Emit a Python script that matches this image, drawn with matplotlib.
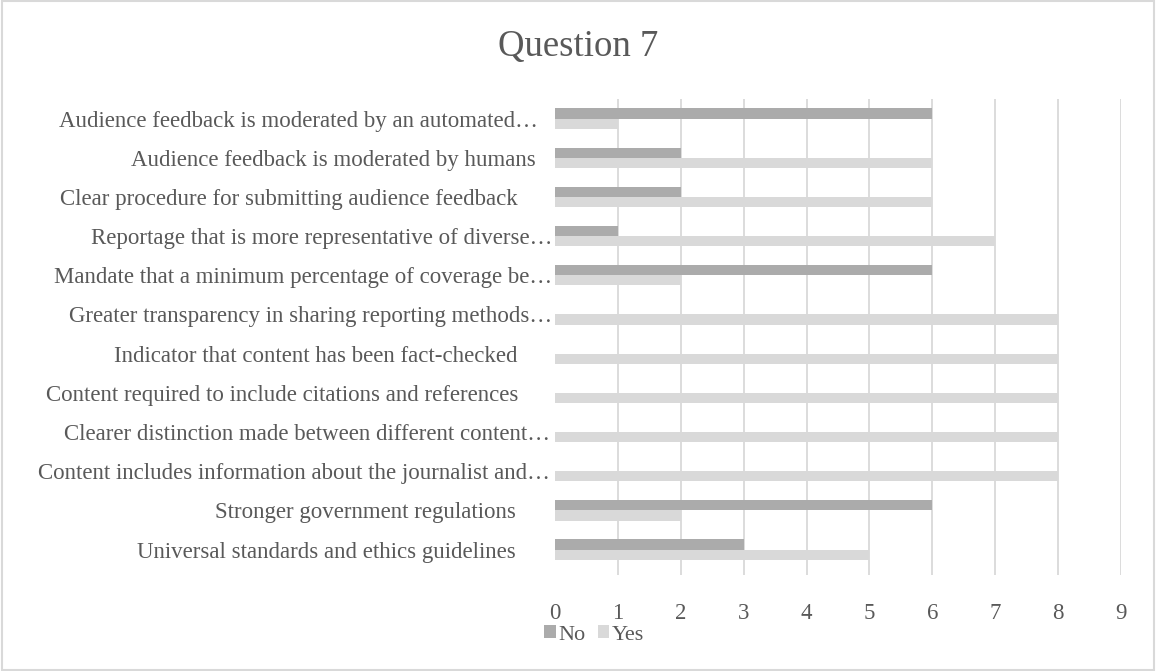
import matplotlib
matplotlib.use("Agg")
import matplotlib.pyplot as plt
import matplotlib.transforms as mtransforms
import numpy as np
from matplotlib.patches import Rectangle

categories = [
    "Universal standards and ethics guidelines",
    "Stronger government regulations",
    "Content includes information about the journalist and…",
    "Clearer distinction made between different content…",
    "Content required to include citations and references",
    "Indicator that content has been fact-checked",
    "Greater transparency in sharing reporting methods…",
    "Mandate that a minimum percentage of coverage be…",
    "Reportage that is more representative of diverse…",
    "Clear procedure for submitting audience feedback",
    "Audience feedback is moderated by humans",
    "Audience feedback is moderated by an automated…",
]
no_vals = [3, 6, 0, 0, 0, 0, 0, 6, 1, 2, 2, 6]
yes_vals = [5, 2, 8, 8, 8, 8, 8, 2, 7, 6, 6, 1]
x_ticks = list(range(0, 10))

# layout: per-label horizontal shift (pixels) to mimic the reference's alignment
label_shift_px = [-2, -2, 32, 32, 0, 0, 34, 34, 34, 0, 18, 20]

plt.rcParams['font.family'] = ['Liberation Serif', 'DejaVu Serif']
TXT = '#595959'
C_NO = '#ababab'
C_YES = '#d9d9d9'
GRID = '#d9d9d9'

fig = plt.figure(figsize=(11.56, 6.71), dpi=100)
ax = fig.add_axes([555/1156, 1-575/671, (1121-555)/1156, (575-99)/671])

y = np.arange(len(categories))
h = 0.26
ax.barh(y + h/2, no_vals, height=h, color=C_NO, label='No', zorder=3)
ax.barh(y - h/2, yes_vals, height=h, color=C_YES, label='Yes', zorder=3)

ax.set_xlim(0, 9)
ax.set_ylim(-0.65, 11.5)
ax.set_xticks(x_ticks)
ax.set_xticklabels([str(t) for t in x_ticks])
for xv in x_ticks[1:]:
    ax.axvline(xv, color=GRID, lw=1.3, zorder=1)
ax.set_yticks(y)
ax.set_yticklabels(categories)
ax.tick_params(axis='both', length=0, colors=TXT, labelsize=16.5)
ax.tick_params(axis='y', pad=(555-518)*0.72)
ax.tick_params(axis='x', pad=20)
for s in ax.spines.values():
    s.set_visible(False)

for lab, dx in zip(ax.get_yticklabels(), label_shift_px):
    off = mtransforms.ScaledTranslation(dx/100, 0, fig.dpi_scale_trans)
    lab.set_transform(lab.get_transform() + off)

fig.text(578/1156, 1-47/671, "Question 7", ha='center', va='center', fontsize=26.5, color=TXT)

leg = fig.legend(loc='center', bbox_to_anchor=(594/1156, 1-635/671), ncol=2, frameon=False,
                 fontsize=16, handlelength=0.5, handleheight=0.5, handletextpad=0.12,
                 columnspacing=0.55, labelcolor=TXT)

fig.patches.append(Rectangle((0.002, 0.002), 0.996, 0.996, transform=fig.transFigure,
                             fill=False, edgecolor='#d9d9d9', lw=1.5))

fig.savefig("out.png", dpi=100, facecolor='white')
